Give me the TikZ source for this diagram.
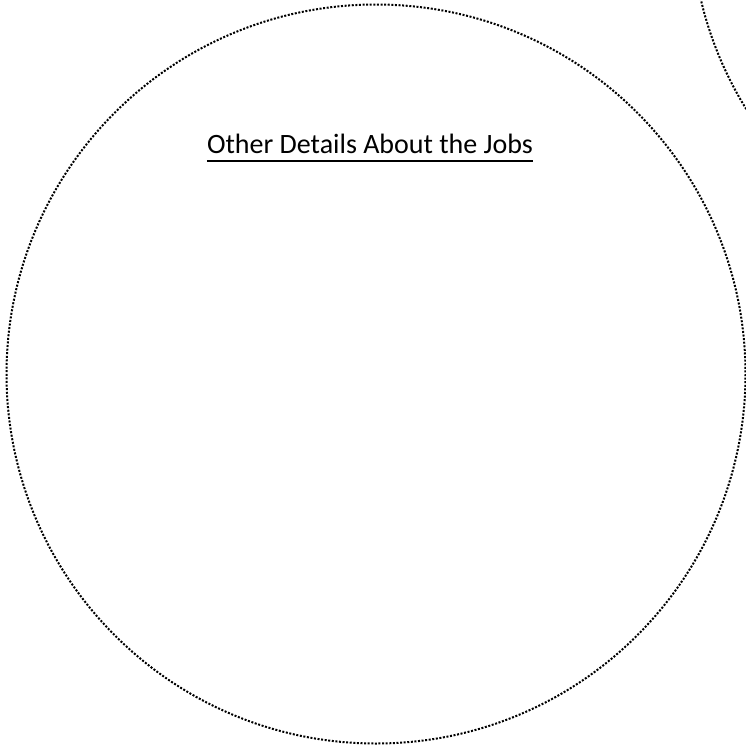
\documentclass[tikz,border=0pt]{standalone}
\usepackage{fontspec}
\setmainfont{Carlito}
\tikzset{
  dotring/.style={draw=black, line width=2pt, dash pattern=on 2pt off 1.6pt},
  titletext/.style={font=\fontsize{28}{32}\selectfont, text=black, inner sep=0pt}
}
\begin{document}
\begin{tikzpicture}[x=1pt,y=-1pt]
\useasboundingbox (0,0) rectangle (746,748);
\begin{scope}
\clip (0,0) rectangle (746,748);
\draw[dotring] (376,374) circle[radius=369.5];
\draw[dotring] (1061,-85.5) circle[radius=370];
\end{scope}
\node[titletext, anchor=base] (title) at (370,153) {Other Details About the Jobs};
\draw[line width=1.6pt] ([yshift=-8pt]title.base west) -- ([yshift=-8pt]title.base east);
\end{tikzpicture}
\end{document}
